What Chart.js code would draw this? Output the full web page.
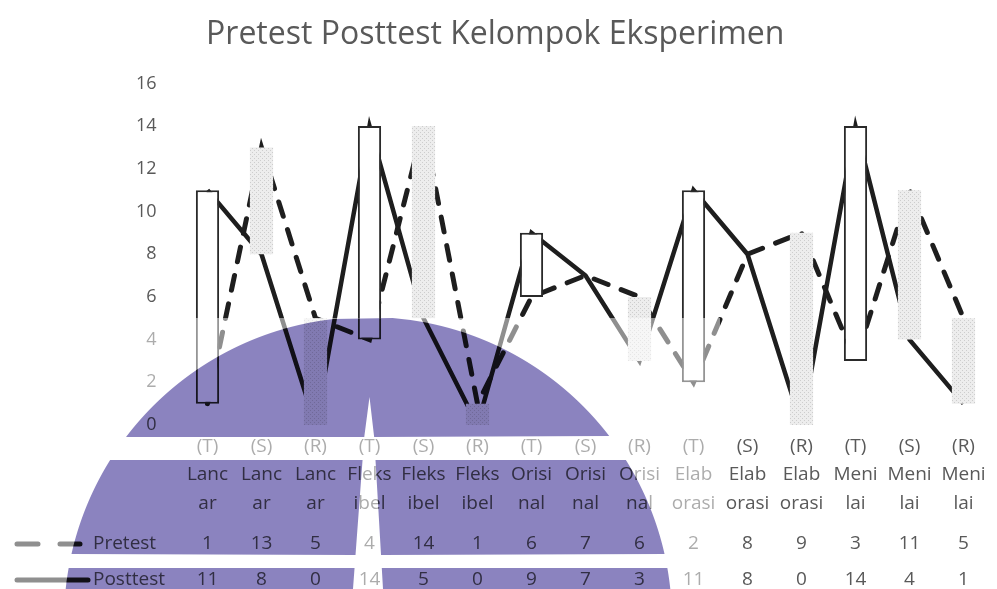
<!DOCTYPE html>
<html>
<head>
<meta charset="utf-8">
<script src="https://cdn.jsdelivr.net/npm/chart.js@4.4.1/dist/chart.umd.min.js"></script>
<style>
  html, body { margin: 0; padding: 0; background: #fff; }
  canvas { display: block; }
</style>
</head>
<body>
<canvas id="chart" width="997" height="589"></canvas>
<script>
// --- data ---
const categories = [
    ['(T)', 'Lanc', 'ar'], ['(S)', 'Lanc', 'ar'], ['(R)', 'Lanc', 'ar'],
    ['(T)', 'Fleks', 'ibel'], ['(S)', 'Fleks', 'ibel'], ['(R)', 'Fleks', 'ibel'],
    ['(T)', 'Orisi', 'nal'], ['(S)', 'Orisi', 'nal'], ['(R)', 'Orisi', 'nal'],
    ['(T)', 'Elab', 'orasi'], ['(S)', 'Elab', 'orasi'], ['(R)', 'Elab', 'orasi'],
    ['(T)', 'Meni', 'lai'], ['(S)', 'Meni', 'lai'], ['(R)', 'Meni', 'lai']
];
const pretest  = [1, 13, 5, 4, 14, 1, 6, 7, 6, 2, 8, 9, 3, 11, 5];
const posttest = [11, 8, 0, 14, 5, 0, 9, 7, 3, 11, 8, 0, 14, 4, 1];
const seriesNames = ['Pretest', 'Posttest'];
const chartTitle = 'Pretest Posttest Kelompok Eksperimen';

const TEXT = '#595959';
const LINE = '#1e1e1e';
const FONT = "'Open Sans', sans-serif";

Chart.defaults.font.family = FONT;
Chart.defaults.color = TEXT;

// light dotted fill used by the "down" bars
function dotPattern() {
    const c = document.createElement('canvas');
    c.width = 4; c.height = 4;
    const g = c.getContext('2d');
    g.fillStyle = '#ededed';
    g.fillRect(0, 0, 4, 4);
    g.fillStyle = '#cdcdcd';
    g.fillRect(0, 0, 1, 1);
    g.fillRect(2, 2, 1, 1);
    return g.createPattern(c, 'repeat');
}
const downFill = dotPattern();
const isUp = i => posttest[i] > pretest[i];

// --- data table under the axis (values + legend keys) ---
const ROW_Y = [544, 580];
const tablePlugin = {
    id: 'dataTable',
    afterDraw(chart) {
        const { ctx, scales: { x } } = chart;
        ctx.save();
        ctx.font = '19px ' + FONT;
        ctx.fillStyle = TEXT;
        ctx.textBaseline = 'middle';
        ctx.textAlign = 'center';
        [pretest, posttest].forEach((row, r) => {
            row.forEach((v, i) => ctx.fillText(String(v), x.getPixelForValue(i), ROW_Y[r]));
        });
        ctx.textAlign = 'left';
        seriesNames.forEach((name, r) => ctx.fillText(name, 93, ROW_Y[r]));

        // legend keys
        ctx.strokeStyle = LINE;
        ctx.lineWidth = 5;
        ctx.lineCap = 'round';
        ctx.setLineDash([21, 22]);
        ctx.beginPath();
        ctx.moveTo(17, ROW_Y[0]);
        ctx.lineTo(80, ROW_Y[0]);
        ctx.stroke();
        ctx.setLineDash([]);
        ctx.beginPath();
        ctx.moveTo(17, ROW_Y[1]);
        ctx.lineTo(88, ROW_Y[1]);
        ctx.stroke();
        ctx.restore();
    }
};

// --- scanned watermark (purple dome) over the lower half ---
const CX = 368, CY = 621, R = 304;
const half = y => Math.sqrt(Math.max(0, R * R - (y - CY) * (y - CY)));
const gapL = y => 367 - (y - 400) * 14 / 189;
const gapR = y => 372 + (y - 400) * 11 / 189;

function logoPath(ctx) {
    // top band, split by the white spike
    ctx.moveTo(CX - half(437), 437);
    for (let y = 437; y >= 318; y -= 2) ctx.lineTo(CX - half(y), y);
    for (let y = 318; y <= 437; y += 2) ctx.lineTo(CX + half(y), y);
    ctx.lineTo(gapR(437), 437);
    ctx.lineTo(369.5, 397);
    ctx.lineTo(gapL(437), 437);
    ctx.closePath();
    // lower bands
    [[460, 555], [568, 600]].forEach(([y0, y1]) => {
        ctx.moveTo(CX - half(y0), y0);
        for (let y = y0; y <= y1; y += 2) ctx.lineTo(CX - half(y), y);
        ctx.lineTo(gapL(y1), y1);
        ctx.lineTo(gapL(y0), y0);
        ctx.closePath();
        ctx.moveTo(gapR(y0), y0);
        for (let y = y0; y <= y1; y += 2) ctx.lineTo(CX + half(y), y);
        ctx.lineTo(gapR(y1), y1);
        ctx.closePath();
    });
}

const watermarkPlugin = {
    id: 'watermark',
    afterDraw(chart) {
        const ctx = chart.ctx;
        ctx.save();
        ctx.beginPath();
        ctx.rect(8, 318, 712, 290);
        logoPath(ctx);
        ctx.fillStyle = 'rgba(255,255,255,0.5)';
        ctx.fill('evenodd');
        ctx.globalCompositeOperation = 'multiply';
        ctx.beginPath();
        logoPath(ctx);
        ctx.fillStyle = '#8b83bf';
        ctx.fill();
        ctx.restore();
    }
};

new Chart(document.getElementById('chart'), {
    type: 'bar',
    data: {
        labels: categories,
        datasets: [
            {
                type: 'bar',
                label: 'Naik/Turun',
                data: pretest.map((p, i) => [p, posttest[i]]),
                backgroundColor: c => isUp(c.dataIndex) ? '#ffffff' : downFill,
                borderColor: c => isUp(c.dataIndex) ? '#2a2a2a' : 'rgba(0,0,0,0)',
                borderWidth: c => isUp(c.dataIndex) ? 2 : 0,
                borderSkipped: false,
                barPercentage: 0.43,
                categoryPercentage: 1,
                order: 0
            },
            {
                type: 'line',
                label: seriesNames[0],
                data: pretest,
                borderColor: LINE,
                borderWidth: 5,
                borderDash: [15, 14],
                borderCapStyle: 'round',
                pointRadius: 0,
                tension: 0,
                order: 1
            },
            {
                type: 'line',
                label: seriesNames[1],
                data: posttest,
                borderColor: LINE,
                borderWidth: 4.5,
                pointRadius: 0,
                tension: 0,
                order: 1
            }
        ]
    },
    options: {
        responsive: false,
        animation: false,
        layout: { padding: { left: 0, right: 6.5, top: 0, bottom: 0 } },
        plugins: {
            legend: { display: false },
            tooltip: { enabled: false },
            title: {
                display: true,
                text: chartTitle,
                color: TEXT,
                font: { size: 32, weight: 'normal', family: FONT },
                padding: { top: 16, bottom: 29 }
            }
        },
        scales: {
            x: {
                grid: { display: false, drawTicks: false },
                border: { display: false },
                ticks: {
                    color: TEXT,
                    font: { size: 19, lineHeight: 1.5 },
                    padding: 7,
                    maxRotation: 0,
                    autoSkip: false
                },
                afterFit: s => { s.height = 164; }
            },
            y: {
                min: 0,
                max: 16,
                grid: { display: false, drawTicks: false },
                border: { display: false },
                ticks: { stepSize: 2, color: TEXT, font: { size: 18 }, padding: 24 },
                afterFit: s => { s.width = 180.5; }
            }
        }
    },
    plugins: [tablePlugin, watermarkPlugin]
});
</script>
</body>
</html>
